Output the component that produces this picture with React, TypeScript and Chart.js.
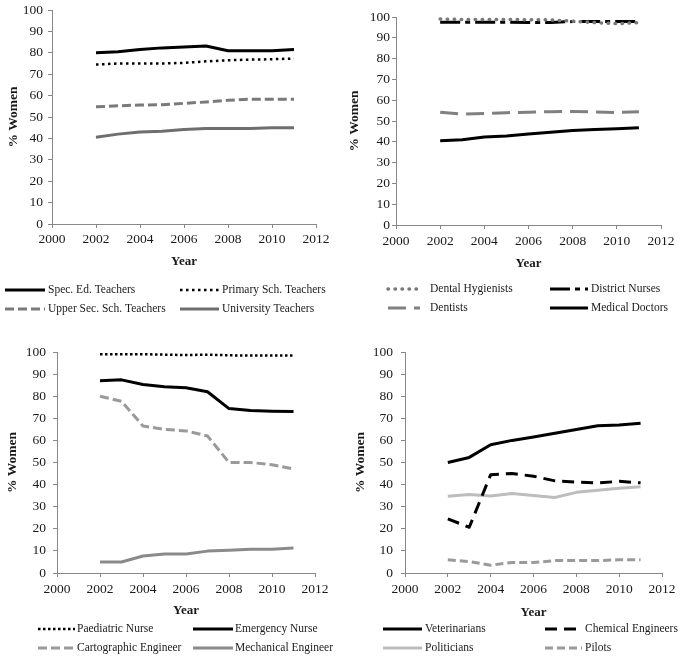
import React, { useEffect, useRef } from 'react';
import { Chart, registerables } from 'chart.js';
Chart.register(...registerables);

const FONT = "'Liberation Serif', 'Times New Roman', serif";

const years = [2002, 2003, 2004, 2005, 2006, 2007, 2008, 2009, 2010, 2011];
const xMin = 2000;
const xMax = 2012;
const xStep = 2;
const yMin = 0;
const yMax = 100;
const yStep = 10;
const xTitle = 'Year';
const yTitle = '% Women';

// Panel 1
const specEdTeachers = [80, 80.5, 81.5, 82.3, 82.7, 83.2, 81, 81, 81, 81.5];
const primaryTeachers = [74.5, 75, 75, 75, 75.3, 76, 76.5, 76.8, 77, 77.3];
const upperSecTeachers = [54.8, 55.2, 55.6, 55.7, 56.4, 57, 57.8, 58.3, 58.3, 58.3];
const universityTeachers = [40.5, 42, 43, 43.3, 44.2, 44.6, 44.6, 44.6, 45, 45];

// Panel 2
const dentalHygienists = [99, 98.8, 98.8, 98.8, 98.7, 98.6, 98, 97.3, 96.8, 97.3];
const districtNurses = [97.5, 97.5, 97.5, 97.5, 97.4, 97.4, 97.8, 97.8, 97.8, 97.9];
const dentists = [54.2, 53.3, 53.6, 54, 54.2, 54.5, 54.6, 54.4, 54.1, 54.4];
const medicalDoctors = [40.5, 41, 42.3, 42.8, 43.7, 44.6, 45.4, 45.9, 46.3, 46.8];

// Panel 3
const paediatricNurse = [99, 99, 99, 98.8, 98.6, 98.8, 98.5, 98.4, 98.4, 98.4];
const emergencyNurse = [87, 87.4, 85.3, 84.3, 83.8, 82, 74.4, 73.5, 73.2, 73.1];
const cartographicEngineer = [80, 77.7, 66.5, 65, 64.3, 62, 50, 50, 49, 47.1];
const mechanicalEngineer = [5, 5, 7.7, 8.6, 8.6, 9.9, 10.3, 10.8, 10.8, 11.3];

// Panel 4
const veterinarians = [50, 52.3, 58, 60, 61.5, 63.2, 64.9, 66.6, 67, 67.8];
const chemicalEngineers = [24.5, 20.7, 44.5, 45, 43.8, 41.7, 41.1, 40.7, 41.5, 40.8];
const politicians = [34.7, 35.5, 34.8, 36, 35.1, 34.2, 36.5, 37.4, 38.3, 39];
const pilots = [6, 5.2, 3.5, 4.8, 4.7, 5.6, 5.6, 5.6, 6, 6];

type Series = {
  label: string;
  values: number[];
  color: string;
  dash: number[];
  width: number;
  cap?: 'butt' | 'round' | 'square';
};

type LegendCol = { x: number; w: number; t: number };

type Panel = {
  left: number;
  top: number;
  w: number;
  h: number;
  pl: number; // plot left
  pt: number; // plot top
  pr: number; // plot right
  pb: number; // plot bottom
  xH: number; // x scale height
  yPad: number;
  xPad: number;
  yTitlePad: number;
  rows: number[];
  cols: LegendCol[];
  series: Series[];
};

const panels: Panel[] = [
  {
    left: 0, top: 0, w: 340, h: 330,
    pl: 52, pt: 10, pr: 316, pb: 224, xH: 45,
    yPad: 5, xPad: 3, yTitlePad: 5,
    rows: [290, 309],
    cols: [{ x: 5, w: 40, t: 48 }, { x: 180, w: 39, t: 222 }],
    series: [
      { label: 'Spec. Ed. Teachers', values: specEdTeachers, color: '#000000', dash: [], width: 3 },
      { label: 'Primary Sch. Teachers', values: primaryTeachers, color: '#000000', dash: [2.5, 3.5], width: 2.5 },
      { label: 'Upper Sec. Sch. Teachers', values: upperSecTeachers, color: '#7a7a7a', dash: [9, 4], width: 3 },
      { label: 'University Teachers', values: universityTeachers, color: '#6e6e6e', dash: [], width: 3 },
    ],
  },
  {
    left: 340, top: 0, w: 341, h: 330,
    pl: 56, pt: 17, pr: 321, pb: 225, xH: 46,
    yPad: 2, xPad: 4, yTitlePad: 6,
    rows: [289, 308],
    cols: [{ x: 48, w: 32, t: 90 }, { x: 210, w: 38, t: 251 }],
    series: [
      { label: 'Dental Hygienists', values: dentalHygienists, color: '#7a7a7a', dash: [0.5, 6.5], width: 3.5, cap: 'round' },
      { label: 'District Nurses', values: districtNurses, color: '#000000', dash: [20, 5, 5, 5], width: 3 },
      { label: 'Dentists', values: dentists, color: '#808080', dash: [18, 8], width: 3 },
      { label: 'Medical Doctors', values: medicalDoctors, color: '#000000', dash: [], width: 3 },
    ],
  },
  {
    left: 0, top: 330, w: 340, h: 329,
    pl: 57, pt: 22, pr: 315, pb: 243, xH: 45,
    yPad: 7, xPad: 4, yTitlePad: 4,
    rows: [299, 318],
    cols: [{ x: 38, w: 37, t: 77 }, { x: 193, w: 40, t: 235 }],
    series: [
      { label: 'Paediatric Nurse', values: paediatricNurse, color: '#000000', dash: [2.5, 2.5], width: 2.5 },
      { label: 'Emergency Nurse', values: emergencyNurse, color: '#000000', dash: [], width: 3 },
      { label: 'Cartographic Engineer', values: cartographicEngineer, color: '#9a9a9a', dash: [9, 4], width: 3 },
      { label: 'Mechanical Engineer', values: mechanicalEngineer, color: '#8a8a8a', dash: [], width: 3 },
    ],
  },
  {
    left: 340, top: 330, w: 341, h: 329,
    pl: 65, pt: 22, pr: 322, pb: 243, xH: 47,
    yPad: 8, xPad: 4, yTitlePad: 12,
    rows: [299, 318],
    cols: [{ x: 43, w: 39, t: 85 }, { x: 205, w: 37, t: 245 }],
    series: [
      { label: 'Veterinarians', values: veterinarians, color: '#000000', dash: [], width: 3 },
      { label: 'Chemical Engineers', values: chemicalEngineers, color: '#000000', dash: [12, 7], width: 3 },
      { label: 'Politicians', values: politicians, color: '#bdbdbd', dash: [], width: 3 },
      { label: 'Pilots', values: pilots, color: '#9a9a9a', dash: [8, 4], width: 3 },
    ],
  },
];

const AXIS = '#888888';
const TEXT = '#1a1a1a';

function PanelChart({ p }: { p: Panel }) {
  const ref = useRef<HTMLCanvasElement | null>(null);
  useEffect(() => {
    const canvas = ref.current;
    if (!canvas) return;
    const legendPlugin = {
      id: 'gridLegend',
      afterDraw(chart: any) {
        const ctx = chart.ctx;
        ctx.save();
        chart.data.datasets.forEach((ds: any, i: number) => {
          const row = Math.floor(i / 2);
          const col = p.cols[i % 2];
          const y = p.rows[row];
          ctx.beginPath();
          ctx.setLineDash(ds.borderDash || []);
          ctx.lineWidth = ds.borderWidth;
          ctx.strokeStyle = ds.borderColor;
          ctx.lineCap = ds.borderCapStyle || 'butt';
          ctx.moveTo(col.x, y);
          ctx.lineTo(col.x + col.w, y);
          ctx.stroke();
          ctx.setLineDash([]);
          ctx.fillStyle = TEXT;
          ctx.font = `11.5px ${FONT}`;
          ctx.textBaseline = 'middle';
          ctx.textAlign = 'left';
          ctx.fillText(ds.label, col.t, y);
        });
        ctx.restore();
      },
    };
    const chart = new Chart(canvas, {
      type: 'line',
      data: {
        datasets: p.series.map((s) => ({
          label: s.label,
          data: years.map((x, i) => ({ x, y: s.values[i] })),
          borderColor: s.color,
          backgroundColor: s.color,
          borderDash: s.dash,
          borderWidth: s.width,
          borderCapStyle: s.cap || 'butt',
          borderJoinStyle: 'round',
          pointRadius: 0,
          tension: 0,
          fill: false,
        })),
      },
      options: {
        animation: false,
        responsive: false,
        events: [],
        layout: {
          padding: {
            left: 0,
            top: p.pt,
            right: p.w - p.pr,
            bottom: p.h - p.pb - p.xH,
          },
        },
        plugins: {
          legend: { display: false },
          tooltip: { enabled: false },
        },
        scales: {
          x: {
            type: 'linear',
            min: xMin,
            max: xMax,
            ticks: {
              stepSize: xStep,
              padding: p.xPad,
              color: TEXT,
              font: { family: FONT, size: 13.5 },
              maxRotation: 0,
              callback: (v: any) => String(v),
            },
            grid: { drawOnChartArea: false, drawTicks: true, tickLength: 4, color: AXIS, lineWidth: 1 },
            border: { display: true, color: AXIS, width: 1 },
            title: {
              display: true,
              text: xTitle,
              color: TEXT,
              font: { family: FONT, size: 13, weight: 'bold' },
              padding: 0,
            },
            afterFit: (scale: any) => {
              scale.height = p.xH;
              scale.paddingLeft = 0;
              scale.paddingRight = 0;
            },
          },
          y: {
            type: 'linear',
            min: yMin,
            max: yMax,
            ticks: {
              stepSize: yStep,
              padding: p.yPad,
              color: TEXT,
              font: { family: FONT, size: 13.5 },
            },
            grid: { drawOnChartArea: false, drawTicks: true, tickLength: 4, color: AXIS, lineWidth: 1 },
            border: { display: true, color: AXIS, width: 1 },
            title: {
              display: true,
              text: yTitle,
              color: TEXT,
              font: { family: FONT, size: 13.5, weight: 'bold' },
              padding: { top: p.yTitlePad, bottom: 0 },
            },
            afterFit: (scale: any) => {
              scale.width = p.pl;
              scale.paddingTop = 0;
              scale.paddingBottom = 0;
            },
          },
        },
      } as any,
      plugins: [legendPlugin],
    });
    return () => chart.destroy();
  }, [p]);
  return (
    <canvas
      ref={ref}
      width={p.w}
      height={p.h}
      style={{ position: 'absolute', left: p.left, top: p.top, width: p.w, height: p.h }}
    />
  );
}

export default function App() {
  return (
    <div style={{ position: 'absolute', left: 0, top: 0, width: 681, height: 659, background: '#ffffff' }}>
      {panels.map((p, i) => (
        <PanelChart key={i} p={p} />
      ))}
    </div>
  );
}
